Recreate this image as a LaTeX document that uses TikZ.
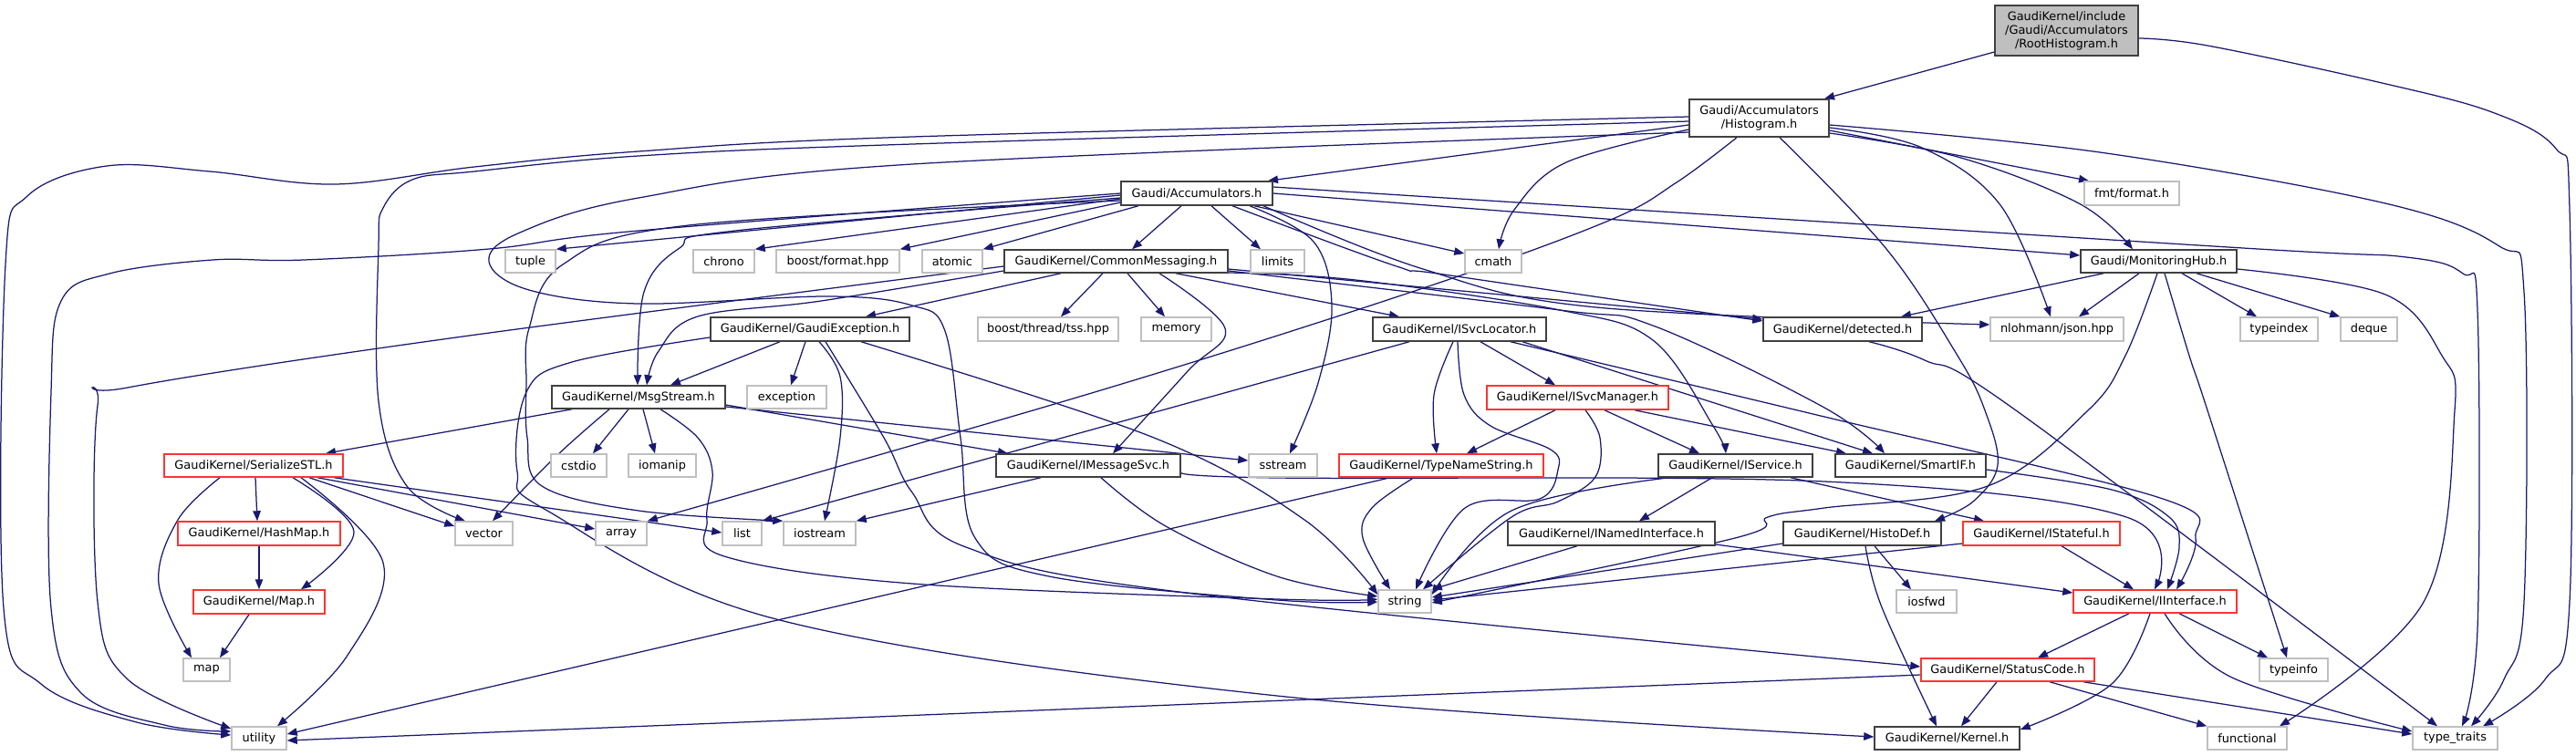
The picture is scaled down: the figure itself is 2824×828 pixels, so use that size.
\documentclass[tikz,border=0pt]{standalone}
\usepackage{fontspec}
\setmainfont{DejaVu Sans}
\usetikzlibrary{arrows.meta}
\definecolor{mblue}{RGB}{25,25,112}
\definecolor{gbord}{RGB}{191,191,191}
\definecolor{rbord}{RGB}{255,51,51}
\definecolor{kbord}{RGB}{64,64,64}
\pgfdeclarelayer{bg}
\pgfsetlayers{bg,main}
\newcommand\nd[7]{\node[box,#6,minimum width={(#4-#2)*1pt},minimum height={(#5-#3)*1pt}] (#1) at ({(#2+#4)/2},{(#3+#5)/2}) {#7};}
\tikzset{
  box/.style={draw, fill=white, inner sep=0pt, line width=1.5pt, align=center, font=\fontsize{12.9pt}{15pt}\selectfont},
  blk/.style={draw=kbord},
  rdb/.style={draw=rbord},
  gry/.style={draw=gbord},
  rootb/.style={draw=kbord, fill=gbord},
  e/.style={draw=mblue, line width=1.25pt, -{Triangle[length=11pt,width=8.5pt]}},
}
\begin{document}
\begin{tikzpicture}[x=1pt,y=-1pt]
\useasboundingbox (0,0) rectangle (2824,828);
% nodes
\nd{root}{2187}{6}{2344}{61}{rootb}{GaudiKernel/include\\/Gaudi/Accumulators\\/RootHistogram.h}
\nd{hist}{1852}{109}{2005}{150}{blk}{Gaudi/Accumulators\\/Histogram.h}
\nd{acc}{1229}{199}{1395}{225}{blk}{Gaudi/Accumulators.h}
\nd{fmt}{2285}{199}{2389}{225}{gry}{fmt/format.h}
\nd{tuple}{554}{274}{609}{299}{gry}{tuple}
\nd{chrono}{760}{274}{827}{299}{gry}{chrono}
\nd{bfmt}{851}{274}{986}{299}{gry}{boost/format.hpp}
\nd{atomic}{1011}{274}{1077}{299}{gry}{atomic}
\nd{cm}{1101}{274}{1346}{299}{blk}{GaudiKernel/CommonMessaging.h}
\nd{limits}{1371}{274}{1430}{299}{gry}{limits}
\nd{cmath}{1606}{274}{1668}{299}{gry}{cmath}
\nd{mh}{2281}{274}{2452}{299}{blk}{Gaudi/MonitoringHub.h}
\nd{gexc}{779}{348}{997}{374}{blk}{GaudiKernel/GaudiException.h}
\nd{tss}{1072}{348}{1226}{374}{gry}{boost/thread/tss.hpp}
\nd{memory}{1251}{348}{1328}{374}{gry}{memory}
\nd{isl}{1505}{348}{1695}{374}{blk}{GaudiKernel/ISvcLocator.h}
\nd{det}{1933}{348}{2107}{374}{blk}{GaudiKernel/detected.h}
\nd{json}{2182}{348}{2328}{374}{gry}{nlohmann/json.hpp}
\nd{tidx}{2456}{348}{2541}{374}{gry}{typeindex}
\nd{deque}{2566}{348}{2628}{374}{gry}{deque}
\nd{msg}{605}{423}{795}{448}{blk}{GaudiKernel/MsgStream.h}
\nd{exc}{819}{423}{906}{448}{gry}{exception}
\nd{ism}{1630}{423}{1829}{449}{rdb}{GaudiKernel/ISvcManager.h}
\nd{ser}{180}{498}{376}{523}{rdb}{GaudiKernel/SerializeSTL.h}
\nd{cstdio}{604}{498}{665}{523}{gry}{cstdio}
\nd{iomanip}{689}{498}{763}{523}{gry}{iomanip}
\nd{ims}{1092}{498}{1294}{523}{blk}{GaudiKernel/IMessageSvc.h}
\nd{sstream}{1369}{498}{1444}{523}{gry}{sstream}
\nd{tns}{1468}{498}{1692}{523}{rdb}{GaudiKernel/TypeNameString.h}
\nd{isv}{1818}{498}{1987}{523}{blk}{GaudiKernel/IService.h}
\nd{sif}{2012}{498}{2177}{523}{blk}{GaudiKernel/SmartIF.h}
\nd{hmap}{195}{572}{373}{598}{rdb}{GaudiKernel/HashMap.h}
\nd{vector}{499}{572}{562}{598}{gry}{vector}
\nd{array}{653}{572}{709}{598}{gry}{array}
\nd{list}{792}{572}{835}{598}{gry}{list}
\nd{iostream}{859}{572}{938}{598}{gry}{iostream}
\nd{ini}{1653}{572}{1880}{598}{blk}{GaudiKernel/INamedInterface.h}
\nd{hdef}{1955}{572}{2128}{598}{blk}{GaudiKernel/HistoDef.h}
\nd{ist}{2152}{572}{2324}{598}{rdb}{GaudiKernel/IStateful.h}
\nd{maph}{212}{647}{356}{673}{rdb}{GaudiKernel/Map.h}
\nd{string}{1511}{647}{1569}{672}{gry}{string}
\nd{iosfwd}{2079}{647}{2145}{672}{gry}{iosfwd}
\nd{iif}{2273}{647}{2452}{672}{rdb}{GaudiKernel/IInterface.h}
\nd{map}{201}{722}{252}{747}{gry}{map}
\nd{sc}{2106}{722}{2296}{747}{rdb}{GaudiKernel/StatusCode.h}
\nd{tinfo}{2477}{722}{2552}{747}{gry}{typeinfo}
\nd{utility}{254}{797}{314}{822}{gry}{utility}
\nd{kernel}{2055}{797}{2214}{822}{blk}{GaudiKernel/Kernel.h}
\nd{func}{2420}{797}{2507}{822}{gry}{functional}
\nd{tt}{2645}{797}{2738}{822}{gry}{type\_traits}
% edges
\begin{pgfonlayer}{bg}
\tikzset{every plot/.style={smooth,tension=0.6}}
% root
\draw[e] (root.west |- 0,57) -- (hist.north -| 2000,0);
\draw[e] plot coordinates {(root.east |- 0,42) (2420,50) (2607,90) (2732,123) (2802,163) (2817,230) (2817,660) (2790,745) (tt.north -| 2722,0)};
% hist
\draw[e] (hist.west |- 0,137) -- (acc.north -| 1390,0);
\draw[e] (hist.east |- 0,143) -- (fmt.north -| 2290,0);
\draw[e] plot coordinates {(hist.east |- 0,146) (2146,172) (2279,223) (mh.north -| 2338,0)};
\draw[e] plot coordinates {(hist.west |- 0,142) (1717,178) (1660,230) (cmath.north -| 1643,0)};
\draw[e] plot coordinates {(hist.east |- 0,140) (2107,162) (2193,225) (json.north -| 2248,0)};
\draw[e] plot coordinates {(hist.east |- 0,137) (2302,167) (2615,223) (2740,270) (2767,320) (2767,660) (2745,745) (tt.north -| 2709,0)};
\draw[e] plot coordinates {(hist.west |- 0,128) (1000,150) (700,166) (520,183) (367,202) (230,188) (117,182) (30,215) (6,290) (4,667) (45,750) (150,792) (utility.west |- 0,806)};
\draw[e] plot coordinates {(hist.west |- 0,133) (1000,158) (700,171) (520,188) (452,197) (420,228) (415,270) (415,440) (446,533) (vector.north -| 510,0)};
\draw[e] plot coordinates {(hist.west |- 0,145) (1000,180) (700,217) (570,255) (536,287) (580,318) (700,333) (908,325) (1000,335) (1036,363) (1053,480) (1069,590) (1150,632) (1400,658) (string.west |- 0,660)};
\draw[e] plot coordinates {(hist.south -| 1904,0) (1838,200) (1761,243) (1557,317) (1200,430) (array.north east)};
\draw[e] plot coordinates {(hist.south -| 1951,0) (2068,273) (2146,390) (2176,450) (2190,510) (2163,550) (hdef.north -| 2121,0)};
% acc
\draw[e] (acc.west |- 0,214) -- (tuple.north east);
\draw[e] (acc.west |- 0,218) -- (chrono.north east);
\draw[e] (acc.west |- 0,222) -- (bfmt.north east);
\draw[e] (acc.south -| 1248,0) -- (atomic.north east);
\draw[e] (acc.south -| 1295,0) -- (cm.north -| 1241,0);
\draw[e] (acc.south -| 1328,0) -- (limits.north -| 1382,0);
\draw[e] (acc.south -| 1375,0) -- (cmath.west |- 0,278);
\draw[e] plot coordinates {(acc.south -| 1370,0) (1440,265) (1460,335) (1445,420) (sstream.north -| 1414,0)};
\draw[e] plot coordinates {(acc.south -| 1351,0) (1531,292) (1583,301) (det.west |- 0,352)};
\draw[e] plot coordinates {(acc.south -| 1385,0) (1560,295) (1750,337) (json.west |- 0,356)};
\draw[e] (acc.east |- 0,212) -- (mh.west |- 0,280);
\draw[e] plot coordinates {(acc.east |- 0,205) (1600,218) (2459,272) (2638,282) (2700,300) (2716,340) (2716,690) (tt.north -| 2699,0)};
\draw[e] plot coordinates {(acc.west |- 0,217) (806,253) (745,272) (706,320) (msg.north -| 699,0)};
\draw[e] plot coordinates {(acc.west |- 0,220) (755,247) (617,290) (580,360) (577,420) (578,480) (594,533) (700,560) (iostream.north west)};
\draw[e] plot coordinates {(acc.west |- 0,212) (700,253) (536,273) (333,285) (233,285) (120,300) (67,330) (56,430) (56,667) (89,760) (180,795) (utility.west |- 0,802)};
% cm
\draw[e] (cm.south -| 1163,0) -- (gexc.north -| 949,0);
\draw[e] (cm.south -| 1209,0) -- (tss.north -| 1163,0);
\draw[e] (cm.south -| 1236,0) -- (memory.north -| 1277,0);
\draw[e] plot coordinates {(cm.west |- 0,297) (900,330) (765,347) (722,385) (msg.north -| 709,0)};
\draw[e] plot coordinates {(cm.west |- 0,292) (500,370) (140,425) (107,445) (107,660) (140,745) (utility.west |- 0,799)};
\draw[e] plot coordinates {(cm.south -| 1271,0) (1343,360) (1302,407) (ims.north -| 1220,0)};
\draw[e] (cm.south -| 1289,0) -- (isl.north -| 1534,0);
\draw[e] plot coordinates {(cm.east |- 0,299) (1486,307) (1710,340) (1812,373) (1878,467) (isv.north -| 1892,0)};
\draw[e] plot coordinates {(cm.east |- 0,297) (1710,340) (1812,357) (2000,447) (sif.north -| 2066,0)};
\draw[e] (cm.east |- 0,295) -- (det.west |- 0,350);
% gexc
\draw[e] (gexc.south -| 855,0) -- (msg.north -| 735,0);
\draw[e] (gexc.south -| 883,0) -- (exc.north -| 867,0);
\draw[e] plot coordinates {(gexc.south -| 898,0) (921,413) (921,480) (iostream.north -| 904,0)};
\draw[e] plot coordinates {(gexc.south -| 944,0) (1265,480) (1430,570) (string.west |- 0,652)};
\draw[e] plot coordinates {(gexc.south -| 905,0) (969,480) (1000,540) (1059,600) (1300,650) (sc.west |- 0,731)};
\draw[e] plot coordinates {(gexc.west |- 0,370) (627,397) (577,430) (567,517) (600,560) (855,680) (1400,763) (kernel.west |- 0,808)};
% msg
\draw[e] (msg.south -| 627,0) -- (ser.north -| 357,0);
\draw[e] plot coordinates {(msg.south -| 668,0) (610,500) (vector.north -| 540,0)};
\draw[e] (msg.south -| 689,0) -- (cstdio.north -| 650,0);
\draw[e] (msg.south -| 705,0) -- (iomanip.north -| 718,0);
\draw[e] plot coordinates {(msg.south -| 724,0) (765,480) (781,517) (775,570) (794,610) (1000,640) (1400,657) (string.west |- 0,657)};
\draw[e] (msg.east |- 0,446) -- (sstream.west |- 0,505);
\draw[e] (msg.east |- 0,444) -- (ims.north -| 1105,0);
% isl
\draw[e] (isl.south -| 1545,0) -- (list.north east);
\draw[e] (isl.south -| 1623,0) -- (ism.north -| 1705,0);
\draw[e] plot coordinates {(isl.south -| 1593,0) (1572,433) (tns.north -| 1575,0)};
\draw[e] plot coordinates {(isl.south -| 1598,0) (1605,433) (1634,467) (1700,493) (1708,515) (1688,547) (1606,557) (string.north -| 1552,0)};
\draw[e] (isl.south -| 1669,0) -- (sif.north -| 2053,0);
\draw[e] plot coordinates {(isl.south -| 1656,0) (2000,457) (2368,546) (2407,590) (iif.north -| 2386,0)};
% ism
\draw[e] (ism.south -| 1705,0) -- (tns.north -| 1608,0);
\draw[e] plot coordinates {(ism.south -| 1738,0) (1754,480) (1749,523) (1708,550) (1657,567) (string.north -| 1560,0)};
\draw[e] (ism.south -| 1759,0) -- (isv.north -| 1863,0);
\draw[e] (ism.south -| 1792,0) -- (sif.north -| 2024,0);
% tns
\draw[e] plot coordinates {(tns.south -| 1550,0) (1504,557) (1494,590) (string.north -| 1524,0)};
\draw[e] (tns.south -| 1524,0) -- (utility.east |- 0,805);
% isv
\draw[e] (isv.south -| 1877,0) -- (ini.north -| 1797,0);
\draw[e] plot coordinates {(isv.south -| 1830,0) (1657,560) (string.east |- 0,652)};
\draw[e] (isv.south -| 1963,0) -- (ist.north -| 2175,0);
% sif
\draw[e] plot coordinates {(sif.east |- 0,515) (2315,537) (2378,567) (2389,600) (iif.north -| 2376,0)};
% ini
\draw[e] (ini.south -| 1729,0) -- (string.north east);
\draw[e] (ini.east |- 0,597) -- (iif.west |- 0,650);
% hdef
\draw[e] (hdef.west |- 0,596) -- (string.east |- 0,655);
\draw[e] (hdef.south -| 2055,0) -- (iosfwd.north -| 2095,0);
\draw[e] plot coordinates {(hdef.south -| 2045,0) (2063,666) (kernel.north -| 2123,0)};
% ist
\draw[e] (ist.west |- 0,596) -- (string.east |- 0,658);
\draw[e] (ist.south -| 2260,0) -- (iif.north -| 2339,0);
% ims
\draw[e] (ims.south -| 1141,0) -- (iostream.north east);
\draw[e] plot coordinates {(ims.south -| 1207,0) (1278,577) (1400,632) (string.west |- 0,654)};
\draw[e] plot coordinates {(ims.east |- 0,518) (1400,524) (2000,528) (2331,567) (iif.north -| 2362,0)};
% mh
\draw[e] (mh.south -| 2306,0) -- (det.north -| 2084,0);
\draw[e] (mh.south -| 2345,0) -- (json.north -| 2279,0);
\draw[e] (mh.south -| 2392,0) -- (tidx.north -| 2474,0);
\draw[e] (mh.south -| 2408,0) -- (deque.north west);
\draw[e] plot coordinates {(mh.south -| 2373,0) (2400,390) (2420,450) (tinfo.north -| 2507,0)};
\draw[e] plot coordinates {(mh.south -| 2365,0) (2330,390) (2289,450) (2179,533) (2000,557) (1938,567) (1902,590) (string.east |- 0,661)};
\draw[e] plot coordinates {(mh.east |- 0,295) (2615,323) (2677,390) (2691,450) (2657,660) (func.north -| 2499,0)};
% det
\draw[e] plot coordinates {(det.south -| 2049,0) (2110,395) (2210,450) (tt.north -| 2672,0)};
% iif
\draw[e] (iif.south -| 2334,0) -- (sc.north -| 2234,0);
\draw[e] plot coordinates {(iif.south -| 2357,0) (2315,750) (kernel.east |- 0,800)};
\draw[e] (iif.south -| 2389,0) -- (tinfo.north -| 2486,0);
\draw[e] plot coordinates {(iif.south -| 2373,0) (2447,743) (tt.west |- 0,802)};
% sc
\draw[e] (sc.south -| 2189,0) -- (kernel.north -| 2150,0);
\draw[e] (sc.south -| 2247,0) -- (func.north west);
\draw[e] (sc.south -| 2284,0) -- (tt.west |- 0,805);
\draw[e] (sc.west |- 0,740) -- (utility.east |- 0,812);
% ser
\draw[e] (ser.south -| 280,0) -- (hmap.north -| 282,0);
\draw[e] plot coordinates {(ser.south -| 241,0) (195,570) (174,640) (map.north -| 210,0)};
\draw[e] plot coordinates {(ser.south -| 321,0) (388,583) (maph.north -| 330,0)};
\draw[e] plot coordinates {(ser.south -| 330,0) (420,617) (380,720) (utility.north -| 304,0)};
\draw[e] (ser.south -| 339,0) -- (vector.west |- 0,577);
\draw[e] (ser.south -| 348,0) -- (array.west |- 0,580);
\draw[e] (ser.south -| 366,0) -- (list.west |- 0,584);
% hmap, maph
\draw[e] (hmap.south -| 284,0) -- (maph.north -| 284,0);
\draw[e] (maph.south -| 273,0) -- (map.north -| 241,0);
\end{pgfonlayer}
\end{tikzpicture}
\end{document}
